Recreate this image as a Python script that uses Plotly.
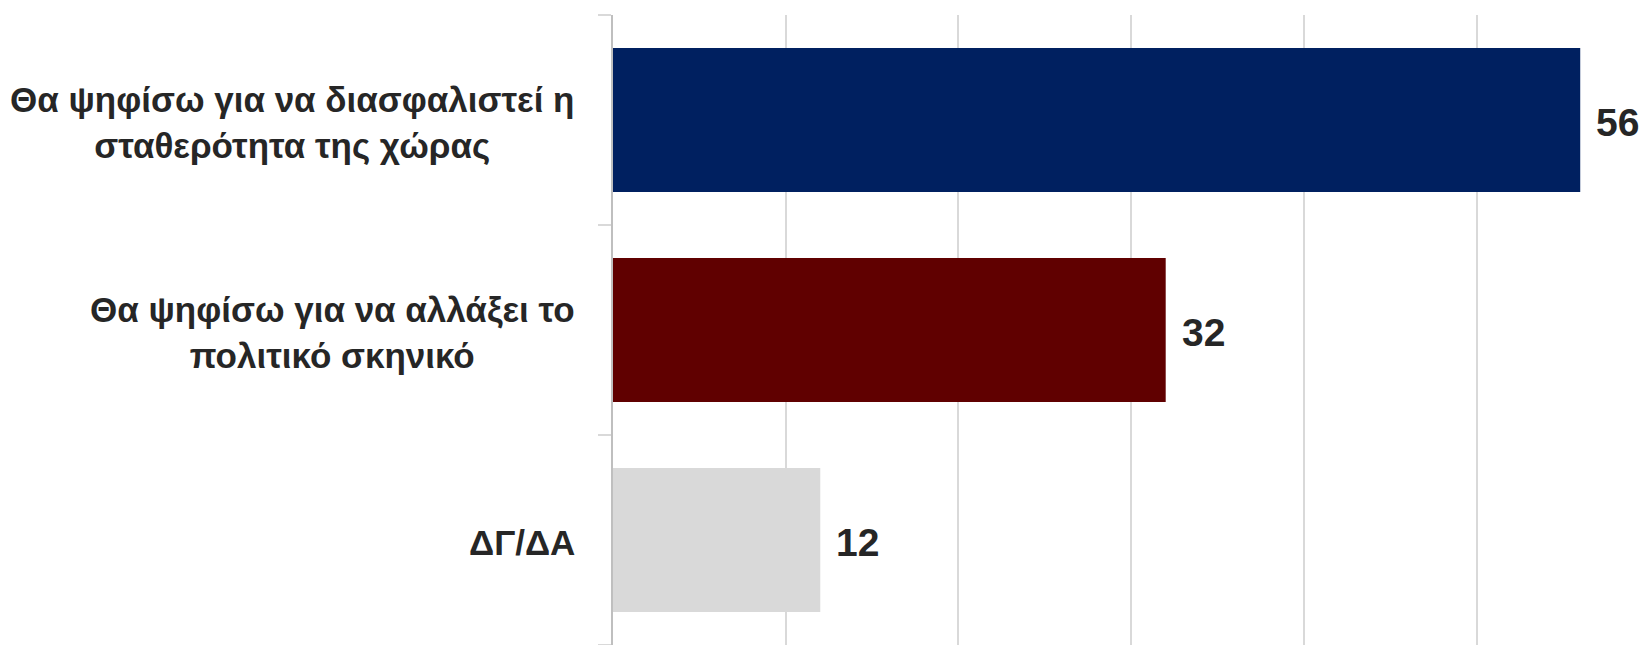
import plotly.graph_objects as go

categories = ["Θα ψηφίσω για να διασφαλιστεί η<br>σταθερότητα της χώρας",
              "Θα ψηφίσω για να αλλάξει το<br>πολιτικό σκηνικό",
              "ΔΓ/ΔΑ"]
values = [56, 32, 12]
colors = ["#002060", "#600000", "#d9d9d9"]

FONT = "Liberation Sans, Arial, sans-serif"
TXT = "#262626"

fig = go.Figure(go.Bar(
    x=values, y=categories, orientation="h",
    marker=dict(color=colors, line=dict(width=0)),
    width=0.685, hoverinfo="skip",
))

ann = []
for c, v in zip(categories, values):
    ann.append(dict(x=v, y=c, xref="x", yref="y", text=f"<b>{v}</b>",
                    showarrow=False, xanchor="left", xshift=14, yshift=-2,
                    font=dict(family=FONT, size=39, color=TXT)))
    ann.append(dict(x=0, y=c, xref="x", yref="y", text=f"<b>{c}</b>",
                    showarrow=False, xanchor="right", xshift=-36, yshift=-2,
                    align="center",
                    font=dict(family=FONT, size=35, color=TXT)))

fig.update_layout(
    width=1645, height=645,
    margin=dict(l=613, r=0, t=15, b=0),
    plot_bgcolor="white", paper_bgcolor="white",
    showlegend=False,
    annotations=ann,
    xaxis=dict(range=[0, 59.75], dtick=10, tick0=0, showgrid=True,
               gridcolor="#d9d9d9", gridwidth=2, showticklabels=False,
               zeroline=False, showline=False, ticks=""),
    yaxis=dict(type="category", categoryorder="array",
               categoryarray=categories[::-1], showticklabels=False,
               ticks="outside", tickson="boundaries", ticklen=13,
               tickcolor="#d9d9d9", tickwidth=2, showgrid=False,
               showline=True, linecolor="#bfbfbf", linewidth=2, zeroline=False),
)

fig.write_html("out.html", config={"displayModeBar": False},
               post_script="document.body.style.margin='0';document.body.style.overflow='hidden';")
